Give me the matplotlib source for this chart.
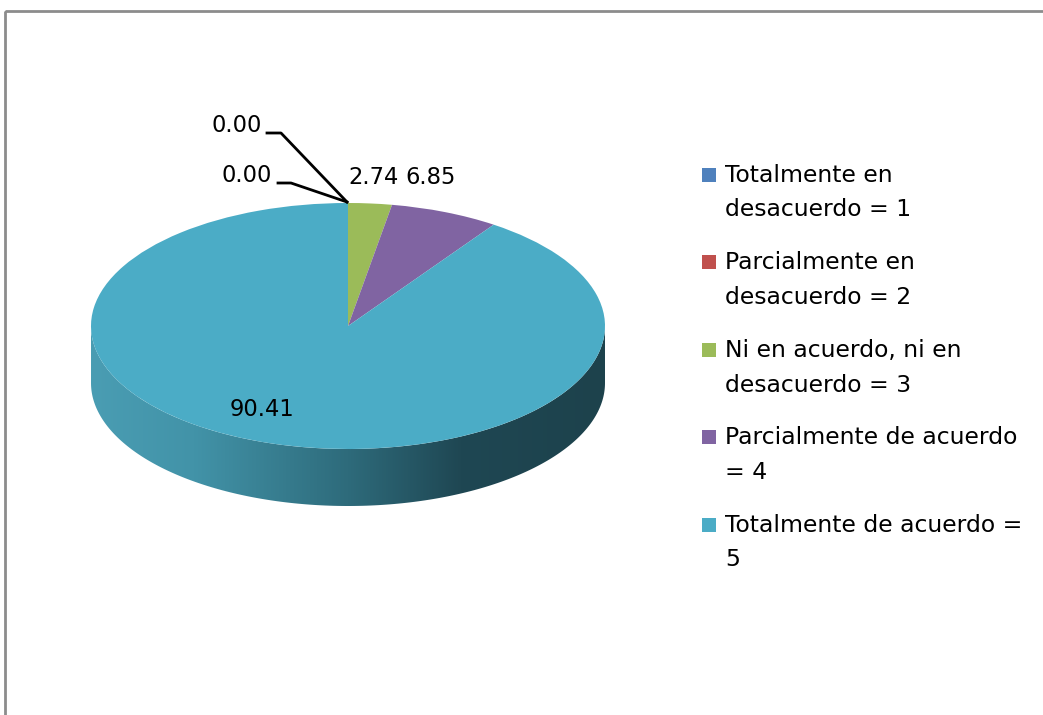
import numpy as np
import matplotlib.pyplot as plt
from matplotlib.patches import Rectangle, Polygon
from matplotlib.colors import LinearSegmentedColormap

# Data
labels = ['Totalmente en\ndesacuerdo = 1',
          'Parcialmente en\ndesacuerdo = 2',
          'Ni en acuerdo, ni en\ndesacuerdo = 3',
          'Parcialmente de acuerdo\n= 4',
          'Totalmente de acuerdo =\n5']
values = [0.00, 0.00, 2.74, 6.85, 90.41]
colors = ['#4F81BD', '#C0504D', '#9BBB59', '#8064A2', '#4BACC6']
value_text = ['0.00', '0.00', '2.74', '6.85', '90.41']

W, H = 1043, 715
plt.rcParams['font.family'] = ['DejaVu Sans']
fig = plt.figure(figsize=(W / 100, H / 100), dpi=100)

# overlay axes in pixel coordinates (frame, labels, legend)
ax = fig.add_axes([0, 0, 1, 1])
ax.set_xlim(0, W)
ax.set_ylim(H, 0)
ax.axis('off')
ax.set_zorder(3)
ax.add_patch(Rectangle((5, 11), W + 20, H + 20, fill=False, ec='#8c8c8c', lw=2))

# pie geometry (pixels)
cx, cy, rx, ry, depth = 348, 326, 257, 123, 57
d = depth / ry
pax = fig.add_axes([(cx - rx) / W, 1 - (cy + ry + depth) / H,
                    2 * rx / W, (2 * ry + depth) / H])
wedges, _ = pax.pie(values, colors=colors, startangle=90, counterclock=False,
                    wedgeprops=dict(linewidth=0))
pax.set_aspect('auto')
pax.axis('off')

# side wall of the slices that face the viewer
side_cmap = LinearSegmentedColormap.from_list(
    'side', [(0.0, '#4A9DB3'), (0.2, '#4293A8'), (0.5, '#2E6B7B'),
             (0.72, '#1F4753'), (1.0, '#1D424C')])
for w in wedges:
    t1, t2 = sorted([w.theta1, w.theta2])
    for shift in (-360, 0, 360):
        a, b = max(t1 + shift, 180), min(t2 + shift, 360)
        if b > a:
            t = np.radians(np.linspace(a, b, 200))
            xs, ys = np.cos(t), np.sin(t)
            pts = np.column_stack([np.r_[xs, xs[::-1]], np.r_[ys, ys[::-1] - d]])
            poly = Polygon(pts, closed=True, fc='none', ec='none')
            pax.add_patch(poly)
            grad = np.linspace(0, 1, 256).reshape(1, -1)
            im = pax.imshow(grad, cmap=side_cmap, extent=(-1, 1, -1 - d, 0),
                            aspect='auto', zorder=0.5)
            im.set_clip_path(poly)
for w in wedges:
    w.set_zorder(1)
pax.set_xlim(-1, 1)
pax.set_ylim(-1 - d, 1)

# data labels
fs = 16.3
lab_pos = [(237, 125), (247, 175), (374, 177), (431, 177), (262, 409)]
for (x, y), s in zip(lab_pos, value_text):
    ax.text(x, y, s, fontsize=fs, ha='center', va='center', color='black')
# leader lines for the zero slices
ax.plot([267, 281, 347], [133, 133, 202], color='black', lw=2)
ax.plot([278, 291, 347], [183, 183, 202], color='black', lw=2)

# legend
for i, (lab, c) in enumerate(zip(labels, colors)):
    y0 = 175 + i * 87.5
    ax.add_patch(Rectangle((702, y0 - 7.5), 14, 14, fc=c, ec='none'))
    for j, line in enumerate(lab.split('\n')):
        ax.text(725, y0 + j * 35, line, fontsize=16.9, ha='left',
                va='center', color='black')

fig.savefig('out.png', dpi=100)
